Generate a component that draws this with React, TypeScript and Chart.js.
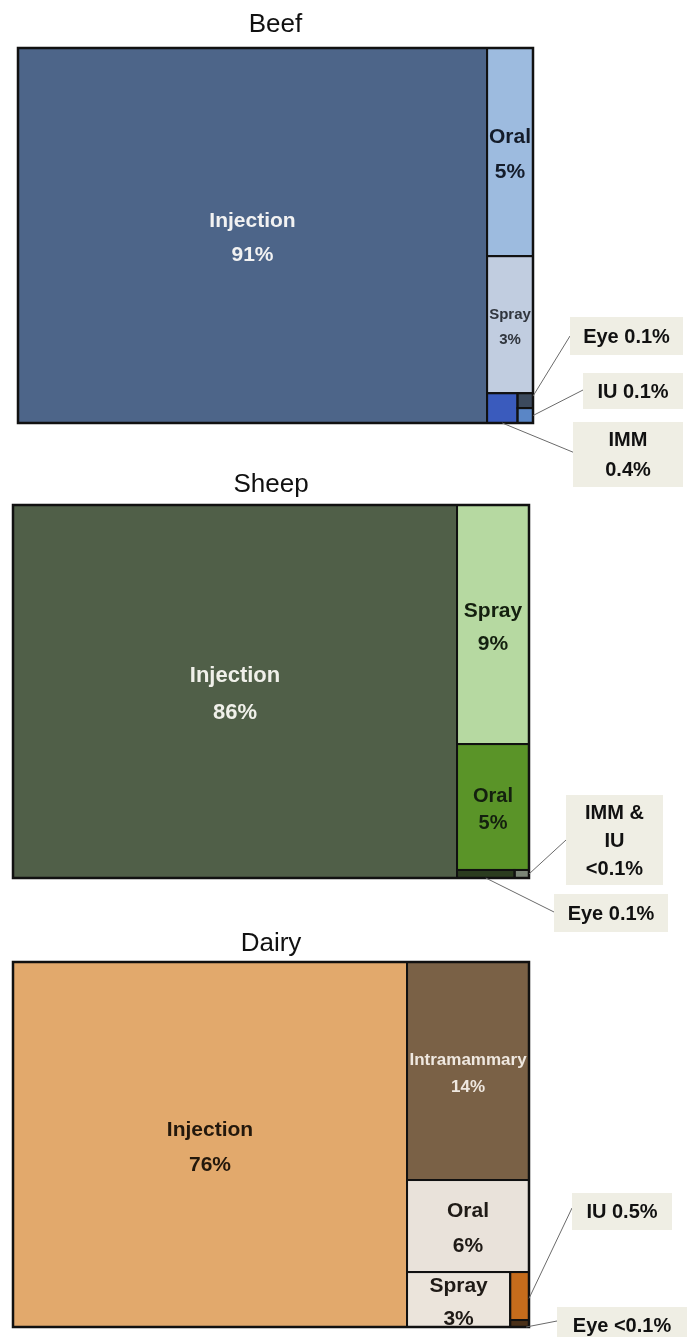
import React, { useEffect, useRef } from 'react';
import { Chart, registerables } from 'chart.js';

Chart.register(...registerables);

// ---------- DATA ----------
const beefCategories = ['Injection', 'Oral', 'Spray', 'IMM', 'Eye', 'IU'];
const beefValues = [91.07, 4.95, 3.26, 0.47, 0.12, 0.12];
const beefValueLabels = ['91%', '5%', '3%', '0.4%', '0.1%', '0.1%'];

const sheepCategories = ['Injection', 'Spray', 'Oral', 'Eye', 'IMM & IU'];
const sheepValues = [86.05, 8.94, 4.71, 0.24, 0.06];
const sheepValueLabels = ['86%', '9%', '5%', '0.1%', '<0.1%'];

const dairyCategories = ['Injection', 'Intramammary', 'Oral', 'Spray', 'IU', 'Eye'];
const dairyValues = [76.36, 14.12, 5.96, 3.01, 0.48, 0.07];
const dairyValueLabels = ['76%', '14%', '6%', '3%', '0.5%', '<0.1%'];

// ---------- STYLES ----------
const beefColors = ['#4d6589', '#9dbbdf', '#c1cde0', '#3a5bbd', '#3c4a5d', '#5a86c6'];
const sheepColors = ['#505f48', '#b6d9a1', '#5a9428', '#2b3c1f', '#7b8577'];
const dairyColors = ['#e2a96c', '#7a6146', '#e9e2da', '#ebe4db', '#c66c1c', '#4a3018'];

const FONT = '"Liberation Sans", Arial, Helvetica, sans-serif';

type Callout = {
  lines: string[];
  box: [number, number, number, number];
  from: [number, number];
  cell: number;
  at: [number, number];
  gap?: number;
};

type Panel = {
  title: string;
  categories: string[];
  values: number[];
  valueLabels: string[];
  colors: string[];
  inside: number[];
  textColors: string[];
  textSizes: number[];
  textGaps: number[];
  top: number;
  height: number;
  area: { left: number; right: number; top: number; bottom: number };
  titleY: number;
  callouts: Callout[];
};

const panels: Panel[] = [
  {
    title: 'Beef',
    categories: beefCategories,
    values: beefValues,
    valueLabels: beefValueLabels,
    colors: beefColors,
    inside: [0, 1, 2],
    textColors: ['#f2f2f2', '#141c2a', '#30353d'],
    textSizes: [21, 21, 15],
    textGaps: [34, 35, 25],
    top: 0,
    height: 490,
    area: { left: 18, right: 533, top: 48, bottom: 423 },
    titleY: 25,
    callouts: [
      { lines: [beefCategories[4] + ' ' + beefValueLabels[4]], box: [570, 317, 113, 38], from: [570, 336], cell: 4, at: [1, 0.2] },
      { lines: [beefCategories[5] + ' ' + beefValueLabels[5]], box: [583, 373, 100, 36], from: [583, 390], cell: 5, at: [1, 0.5] },
      { lines: [beefCategories[3], beefValueLabels[3]], box: [573, 422, 110, 65], from: [575, 453], cell: 3, at: [0.5, 1], gap: 30 },
    ],
  },
  {
    title: 'Sheep',
    categories: sheepCategories,
    values: sheepValues,
    valueLabels: sheepValueLabels,
    colors: sheepColors,
    inside: [0, 1, 2],
    textColors: ['#f0f0ea', '#14200f', '#14200f'],
    textSizes: [22, 21, 20],
    textGaps: [37, 33, 27],
    top: 458,
    height: 480,
    area: { left: 13, right: 529, top: 47, bottom: 420 },
    titleY: 27,
    callouts: [
      { lines: ['IMM &', 'IU', sheepValueLabels[4]], box: [566, 337, 97, 90], from: [566, 382], cell: 4, at: [1, 0.5], gap: 28 },
      { lines: [sheepCategories[3] + ' ' + sheepValueLabels[3]], box: [554, 436, 114, 38], from: [554, 454], cell: 3, at: [0.5, 1] },
    ],
  },
  {
    title: 'Dairy',
    categories: dairyCategories,
    values: dairyValues,
    valueLabels: dairyValueLabels,
    colors: dairyColors,
    inside: [0, 1, 2, 3],
    textColors: ['#23180c', '#efe8e0', '#1f1a16', '#1f1a16'],
    textSizes: [21, 17, 21, 21],
    textGaps: [35, 27, 35, 33],
    top: 918,
    height: 419,
    area: { left: 13, right: 529, top: 44, bottom: 409 },
    titleY: 26,
    callouts: [
      { lines: [dairyCategories[4] + ' ' + dairyValueLabels[4]], box: [572, 275, 100, 37], from: [572, 290], cell: 4, at: [1, 0.55] },
      { lines: [dairyCategories[5] + ' ' + dairyValueLabels[5]], box: [557, 389, 130, 36], from: [557, 403], cell: 5, at: [0.85, 1] },
    ],
  },
];

// squarified treemap layout in a W x H rectangle
function squarify(values: number[], W: number, H: number) {
  const total = values.reduce((a, b) => a + b, 0);
  const areas = values.map((v) => (v / total) * W * H);
  const out: { x: number; y: number; w: number; h: number }[] = new Array(values.length);
  let rect = { x: 0, y: 0, w: W, h: H };
  const worst = (row: number[], side: number) => {
    const s = row.reduce((a, b) => a + b, 0);
    const mx = Math.max(...row);
    const mn = Math.min(...row);
    return Math.max((side * side * mx) / (s * s), (s * s) / (side * side * mn));
  };
  let i = 0;
  while (i < areas.length) {
    const side = Math.min(rect.w, rect.h);
    const row = [areas[i]];
    let j = i + 1;
    while (j < areas.length && worst([...row, areas[j]], side) <= worst(row, side)) {
      row.push(areas[j]);
      j++;
    }
    const s = row.reduce((a, b) => a + b, 0);
    if (rect.w >= rect.h) {
      const cw = s / rect.h;
      let y = rect.y;
      row.forEach((a, k) => {
        const hh = a / cw;
        out[i + k] = { x: rect.x, y, w: cw, h: hh };
        y += hh;
      });
      rect = { x: rect.x + cw, y: rect.y, w: rect.w - cw, h: rect.h };
    } else {
      const rh = s / rect.w;
      let x = rect.x;
      row.forEach((a, k) => {
        const ww = a / rh;
        out[i + k] = { x, y: rect.y, w: ww, h: rh };
        x += ww;
      });
      rect = { x: rect.x, y: rect.y + rh, w: rect.w, h: rect.h - rh };
    }
    i = j;
  }
  return out;
}

function TreemapPanel({ panel }: { panel: Panel }) {
  const ref = useRef<HTMLCanvasElement | null>(null);
  useEffect(() => {
    if (!ref.current) return;
    const p = panel;
    const plugin = {
      id: 'treemapCells',
      afterDatasetsDraw(chart: any) {
        const ctx = chart.ctx as CanvasRenderingContext2D;
        const xs = chart.scales.x;
        const ys = chart.scales.y;
        const ca = chart.chartArea;
        const aspect = (ca.right - ca.left) / (ca.bottom - ca.top);
        const units = squarify(p.values, aspect, 1);
        const px = units.map((r) => {
          const x0 = xs.getPixelForValue(r.x / aspect);
          const x1 = xs.getPixelForValue((r.x + r.w) / aspect);
          const y0 = ys.getPixelForValue(r.y);
          const y1 = ys.getPixelForValue(r.y + r.h);
          return { x: x0, y: y0, w: x1 - x0, h: y1 - y0 };
        });
        ctx.save();
        px.forEach((r, k) => {
          ctx.fillStyle = p.colors[k];
          ctx.fillRect(r.x, r.y, r.w, r.h);
        });
        ctx.strokeStyle = '#111111';
        ctx.lineWidth = 2;
        px.forEach((r) => {
          ctx.strokeRect(r.x, r.y, r.w, r.h);
        });
        ctx.lineWidth = 2.5;
        ctx.strokeRect(ca.left, ca.top, ca.right - ca.left, ca.bottom - ca.top);

        // inside labels
        ctx.textAlign = 'center';
        ctx.textBaseline = 'middle';
        p.inside.forEach((idx, k) => {
          const r = px[idx];
          const cx = r.x + r.w / 2;
          const cy = r.y + r.h / 2 + 3;
          ctx.fillStyle = p.textColors[k];
          ctx.font = `bold ${p.textSizes[k]}px ${FONT}`;
          ctx.fillText(p.categories[idx], cx, cy - p.textGaps[k] / 2);
          ctx.fillText(p.valueLabels[idx], cx, cy + p.textGaps[k] / 2);
        });

        // callouts
        p.callouts.forEach((c) => {
          const r = px[c.cell];
          const ax = r.x + r.w * c.at[0];
          const ay = r.y + r.h * c.at[1];
          ctx.strokeStyle = '#6a6a6a';
          ctx.lineWidth = 1;
          ctx.beginPath();
          ctx.moveTo(c.from[0], c.from[1]);
          ctx.lineTo(ax, ay);
          ctx.stroke();
          const [bx, by, bw, bh] = c.box;
          ctx.fillStyle = '#efeee4';
          ctx.fillRect(bx, by, bw, bh);
          ctx.fillStyle = '#111111';
          ctx.font = `bold 20px ${FONT}`;
          const gap = c.gap ?? 28;
          const n = c.lines.length;
          const mid = by + bh / 2 + 1;
          c.lines.forEach((t, li) => {
            ctx.fillText(t, bx + bw / 2, mid + (li - (n - 1) / 2) * gap);
          });
        });
        ctx.restore();
      },
    };

    const titleSize = 26;
    const titleH = titleSize * 1.2;
    const chart = new Chart(ref.current, {
      type: 'scatter',
      data: {
        datasets: [{ label: p.title, data: p.values.map((v, i) => ({ x: i, y: v })), pointRadius: 0, showLine: false }],
      },
      options: {
        animation: false,
        responsive: false,
        devicePixelRatio: 1,
        events: [],
        layout: {
          padding: {
            left: p.area.left,
            right: 691 - p.area.right,
            top: 0,
            bottom: p.height - p.area.bottom,
          },
        },
        scales: {
          x: { type: 'linear', min: 0, max: 1, display: false },
          y: { type: 'linear', min: 0, max: 1, reverse: true, display: false },
        },
        plugins: {
          legend: { display: false },
          tooltip: { enabled: false },
          title: {
            display: true,
            text: p.title,
            fullSize: false,
            color: '#111111',
            font: { family: FONT, size: titleSize, weight: 'normal', lineHeight: 1.2 },
            padding: { top: p.titleY - titleH / 2, bottom: p.area.top - p.titleY - titleH / 2 },
          },
        },
      } as any,
      plugins: [plugin],
    });
    return () => chart.destroy();
  }, [panel]);

  return (
    <canvas
      ref={ref}
      width={691}
      height={panel.height}
      style={{ position: 'absolute', left: 0, top: panel.top, width: 691, height: panel.height }}
    />
  );
}

export default function App() {
  return (
    <div style={{ position: 'absolute', left: 0, top: 0, width: 691, height: 1337, background: '#ffffff' }}>
      {panels.map((p) => (
        <TreemapPanel key={p.title} panel={p} />
      ))}
    </div>
  );
}
